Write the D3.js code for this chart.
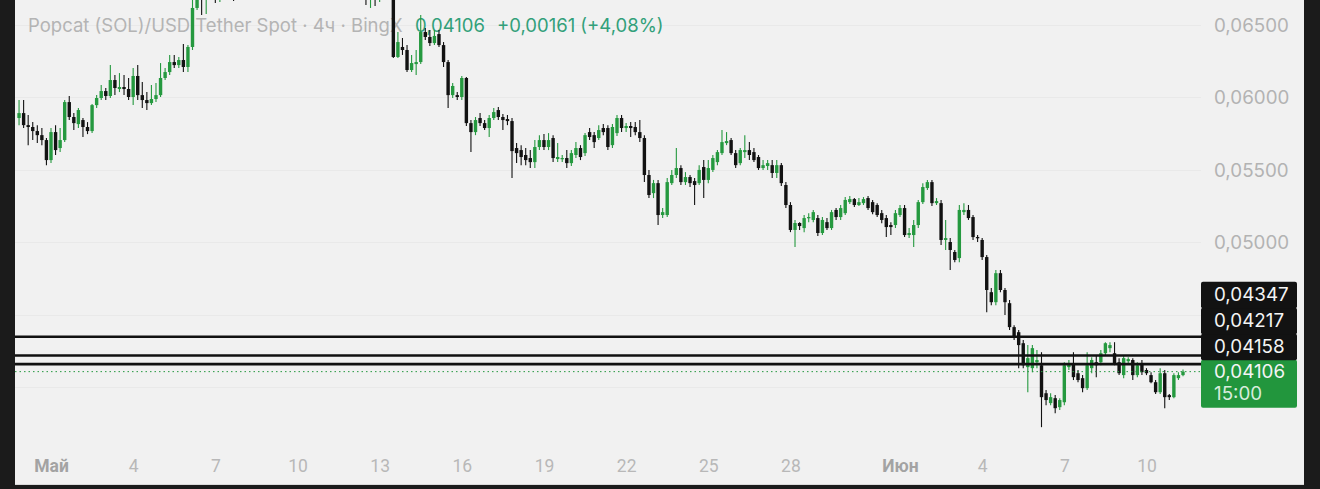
<!DOCTYPE html>
<html><head><meta charset="utf-8">
<script src="https://cdn.jsdelivr.net/npm/d3@7"></script>
<style>html,body{margin:0;padding:0;background:#1b1b1b;overflow:hidden}</style>
</head><body>
<svg id="chart" width="1320" height="489"></svg>
<script>
// ---- DATA (4h candles, Popcat (SOL)/USDT, BingX) ----
const firstCandle = "2024-04-29T20:00:00Z";
const candleHours = 4;
const openP = [
0.05855,0.05889,0.05806,0.05793,0.05765,0.05737,0.05703,0.05565,0.05758,0.05648,
0.05703,0.05965,0.05862,0.05813,0.05841,0.05793,0.05765,0.05944,0.05993,0.06041,
0.06007,0.06117,0.06055,0.06069,0.06055,0.06000,0.06145,0.06013,0.05979,0.05958,
0.05986,0.06013,0.06131,0.06172,0.06241,0.06220,0.06255,0.06207,0.06345,0.06614,
0.06772,0.06703,0.06841,0.06945,0.06807,0.06910,0.07014,0.06980,0.06876,0.06980,
0.07083,0.07152,0.07110,0.07221,0.07290,0.07250,0.07359,0.07320,0.07428,0.07390,
0.07290,0.07330,0.07221,0.07260,0.07152,0.07190,0.07083,0.07120,0.07014,0.07050,
0.06945,0.06980,0.06876,0.06910,0.06807,0.06841,0.06750,0.06725,0.06760,0.06740,
0.06790,0.06840,0.06810,0.06276,0.06345,0.06324,0.06186,0.06227,0.06241,0.06448,
0.06414,0.06372,0.06434,0.06358,0.06241,0.06013,0.06013,0.06000,0.06131,0.05820,
0.05758,0.05855,0.05820,0.05786,0.05855,0.05910,0.05862,0.05848,0.05834,0.05648,
0.05634,0.05600,0.05579,0.05551,0.05655,0.05703,0.05655,0.05717,0.05572,0.05572,
0.05579,0.05544,0.05600,0.05648,0.05613,0.05758,0.05737,0.05717,0.05786,0.05786,
0.05668,0.05751,0.05855,0.05786,0.05800,0.05793,0.05758,0.05717,0.05462,0.05337,
0.05406,0.05186,0.05186,0.05406,0.05462,0.05510,0.05413,0.05448,0.05420,0.05406,
0.05517,0.05428,0.05497,0.05551,0.05613,0.05682,0.05703,0.05613,0.05544,0.05620,
0.05634,0.05620,0.05586,0.05510,0.05524,0.05530,0.05476,0.05530,0.05393,0.05255,
0.05083,0.05131,0.05096,0.05165,0.05152,0.05165,0.05062,0.05137,0.05096,0.05221,
0.05172,0.05199,0.05275,0.05296,0.05255,0.05268,0.05303,0.05275,0.05255,0.05199,
0.05165,0.05117,0.05117,0.05186,0.05234,0.05048,0.05048,0.05117,0.05275,0.05372,
0.05413,0.05268,0.05268,0.05014,0.05000,0.04931,0.04889,0.05206,0.05221,0.05172,
0.05034,0.05014,0.04896,0.04654,0.04585,0.04785,0.04669,0.04578,0.04413,0.04378,
0.04302,0.04137,0.04130,0.04171,0.04150,0.03957,0.03889,0.03923,0.03861,0.03895,
0.04137,0.04164,0.04095,0.04061,0.03992,0.04130,0.04171,0.04171,0.04233,0.04268,
0.04233,0.04171,0.04082,0.04178,0.04186,0.04082,0.04164,0.04117,0.04082,0.04033,
0.03964,0.04095,0.03944,0.03930,0.04061,0.04082];
const closeP = [
0.05889,0.05806,0.05793,0.05765,0.05737,0.05703,0.05565,0.05758,0.05634,0.05703,
0.05965,0.05862,0.05820,0.05910,0.05793,0.05765,0.05944,0.05993,0.06041,0.06007,
0.06117,0.06062,0.06069,0.06055,0.06000,0.06145,0.06013,0.05979,0.05958,0.05986,
0.06013,0.06131,0.06172,0.06241,0.06220,0.06255,0.06207,0.06345,0.06614,0.06772,
0.06703,0.06841,0.06945,0.06807,0.06910,0.07014,0.06980,0.06876,0.06980,0.07083,
0.07152,0.07110,0.07221,0.07290,0.07250,0.07359,0.07320,0.07428,0.07390,0.07290,
0.07330,0.07221,0.07260,0.07152,0.07190,0.07083,0.07120,0.07014,0.07050,0.06945,
0.06980,0.06876,0.06910,0.06807,0.06841,0.06750,0.06725,0.06760,0.06740,0.06790,
0.06840,0.06810,0.06276,0.06379,0.06324,0.06186,0.06234,0.06241,0.06448,0.06414,
0.06372,0.06421,0.06358,0.06241,0.06013,0.06076,0.06000,0.06131,0.05820,0.05758,
0.05841,0.05820,0.05786,0.05855,0.05896,0.05862,0.05841,0.05834,0.05627,0.05613,
0.05586,0.05565,0.05551,0.05655,0.05703,0.05655,0.05703,0.05579,0.05586,0.05579,
0.05544,0.05613,0.05648,0.05586,0.05737,0.05724,0.05689,0.05772,0.05758,0.05655,
0.05793,0.05855,0.05786,0.05800,0.05786,0.05758,0.05717,0.05462,0.05324,0.05406,
0.05186,0.05206,0.05413,0.05462,0.05510,0.05413,0.05448,0.05406,0.05393,0.05497,
0.05428,0.05510,0.05579,0.05620,0.05689,0.05696,0.05613,0.05530,0.05634,0.05634,
0.05600,0.05565,0.05510,0.05530,0.05544,0.05476,0.05530,0.05406,0.05255,0.05083,
0.05131,0.05110,0.05165,0.05172,0.05206,0.05062,0.05152,0.05096,0.05206,0.05172,
0.05234,0.05290,0.05296,0.05255,0.05275,0.05296,0.05234,0.05206,0.05186,0.05152,
0.05103,0.05103,0.05199,0.05234,0.05048,0.05062,0.05117,0.05275,0.05379,0.05413,
0.05268,0.05282,0.05014,0.05027,0.04945,0.04876,0.05221,0.05221,0.05165,0.05034,
0.05027,0.04896,0.04669,0.04585,0.04785,0.04669,0.04585,0.04413,0.04344,0.04289,
0.04150,0.04199,0.04268,0.04186,0.03930,0.03910,0.03930,0.03854,0.03910,0.04150,
0.04164,0.04068,0.04048,0.03992,0.04150,0.04186,0.04150,0.04233,0.04302,0.04289,
0.04164,0.04095,0.04199,0.04192,0.04082,0.04150,0.04102,0.04095,0.04033,0.03964,
0.04095,0.03930,0.03930,0.04082,0.04082,0.04106];
const highP = [
0.05979,0.05979,0.05876,0.05827,0.05806,0.05786,0.05717,0.05786,0.05806,0.05786,
0.05979,0.06007,0.05889,0.05924,0.05855,0.05827,0.05951,0.06013,0.06082,0.06062,
0.06220,0.06151,0.06165,0.06151,0.06131,0.06200,0.06220,0.06103,0.06034,0.06082,
0.06096,0.06234,0.06200,0.06290,0.06290,0.06276,0.06365,0.06358,0.06703,0.06876,
0.06910,0.06945,0.07014,0.06980,0.06945,0.07083,0.07069,0.07014,0.07049,0.07120,
0.07192,0.07192,0.07261,0.07330,0.07330,0.07399,0.07399,0.07468,0.07468,0.07430,
0.07370,0.07370,0.07300,0.07300,0.07230,0.07230,0.07160,0.07160,0.07090,0.07090,
0.07020,0.07020,0.06950,0.06950,0.06881,0.06881,0.06810,0.06820,0.06830,0.06860,
0.06900,0.06940,0.06880,0.06448,0.06407,0.06358,0.06290,0.06324,0.06565,0.06476,
0.06462,0.06462,0.06462,0.06379,0.06255,0.06096,0.06034,0.06145,0.06138,0.05841,
0.05862,0.05889,0.05841,0.05876,0.05924,0.05931,0.05882,0.05876,0.05855,0.05682,
0.05668,0.05648,0.05634,0.05703,0.05737,0.05744,0.05751,0.05737,0.05682,0.05600,
0.05634,0.05634,0.05689,0.05668,0.05751,0.05786,0.05758,0.05806,0.05813,0.05806,
0.05813,0.05876,0.05876,0.05820,0.05827,0.05827,0.05841,0.05737,0.05497,0.05428,
0.05428,0.05234,0.05441,0.05497,0.05648,0.05530,0.05482,0.05462,0.05441,0.05530,
0.05565,0.05565,0.05600,0.05634,0.05772,0.05758,0.05717,0.05634,0.05648,0.05737,
0.05689,0.05648,0.05600,0.05565,0.05565,0.05565,0.05565,0.05544,0.05413,0.05275,
0.05152,0.05137,0.05186,0.05199,0.05221,0.05186,0.05172,0.05165,0.05221,0.05234,
0.05255,0.05310,0.05317,0.05303,0.05303,0.05310,0.05317,0.05290,0.05268,0.05221,
0.05186,0.05137,0.05221,0.05255,0.05255,0.05096,0.05152,0.05290,0.05406,0.05428,
0.05428,0.05303,0.05290,0.05152,0.05027,0.04945,0.05255,0.05268,0.05255,0.05186,
0.05048,0.05027,0.04910,0.04682,0.04807,0.04807,0.04682,0.04600,0.04426,0.04393,
0.04324,0.04289,0.04289,0.04255,0.04240,0.03979,0.03957,0.03944,0.03923,0.04171,
0.04186,0.04240,0.04117,0.04082,0.04240,0.04206,0.04220,0.04255,0.04309,0.04309,
0.04309,0.04199,0.04220,0.04206,0.04199,0.04171,0.04186,0.04130,0.04102,0.04048,
0.04130,0.04117,0.03951,0.04095,0.04102,0.04120];
const lowP = [
0.05806,0.05786,0.05668,0.05703,0.05682,0.05668,0.05530,0.05544,0.05600,0.05620,
0.05689,0.05841,0.05772,0.05786,0.05724,0.05744,0.05751,0.05924,0.05979,0.05979,
0.05993,0.06013,0.06034,0.06013,0.05979,0.05944,0.05979,0.05924,0.05910,0.05944,
0.05965,0.06000,0.06117,0.06151,0.06200,0.06200,0.06172,0.06172,0.06324,0.06600,
0.06565,0.06572,0.06807,0.06648,0.06655,0.06876,0.06807,0.06662,0.06807,0.06940,
0.07043,0.07070,0.07070,0.07181,0.07210,0.07210,0.07280,0.07280,0.07350,0.07250,
0.07250,0.07181,0.07181,0.07112,0.07112,0.07043,0.07043,0.06974,0.06974,0.06905,
0.06905,0.06836,0.06836,0.06767,0.06767,0.06710,0.06634,0.06614,0.06627,0.06655,
0.06720,0.06720,0.06269,0.06269,0.06290,0.06172,0.06172,0.06151,0.06227,0.06393,
0.06352,0.06358,0.06345,0.06207,0.05924,0.05993,0.05979,0.05979,0.05800,0.05620,
0.05737,0.05800,0.05772,0.05724,0.05841,0.05841,0.05772,0.05806,0.05441,0.05544,
0.05530,0.05530,0.05510,0.05510,0.05634,0.05634,0.05634,0.05551,0.05551,0.05551,
0.05510,0.05524,0.05579,0.05565,0.05593,0.05703,0.05648,0.05703,0.05737,0.05634,
0.05648,0.05731,0.05758,0.05758,0.05724,0.05737,0.05689,0.05413,0.05303,0.05303,
0.05117,0.05165,0.05172,0.05393,0.05441,0.05393,0.05393,0.05379,0.05255,0.05393,
0.05303,0.05406,0.05482,0.05530,0.05600,0.05668,0.05600,0.05510,0.05530,0.05579,
0.05565,0.05551,0.05497,0.05497,0.05497,0.05441,0.05441,0.05386,0.05234,0.05068,
0.04965,0.05083,0.05068,0.05137,0.05137,0.05041,0.05048,0.05083,0.05083,0.05152,
0.05152,0.05186,0.05262,0.05241,0.05248,0.05255,0.05221,0.05192,0.05172,0.05130,
0.05034,0.05048,0.05096,0.05172,0.05034,0.05027,0.04965,0.05096,0.05262,0.05359,
0.05248,0.05255,0.04979,0.04945,0.04807,0.04861,0.04861,0.05186,0.05152,0.05014,
0.05000,0.04876,0.04516,0.04564,0.04564,0.04654,0.04496,0.04393,0.04324,0.04130,
0.04130,0.03964,0.04102,0.04130,0.03723,0.03875,0.03875,0.03819,0.03841,0.03875,
0.04117,0.04048,0.04033,0.03964,0.03979,0.04095,0.04068,0.04150,0.04213,0.04240,
0.04150,0.04082,0.04061,0.04164,0.04048,0.04068,0.04082,0.04082,0.04026,0.03951,
0.03951,0.03854,0.03910,0.03923,0.04048,0.04075];

const priceTicks = [0.065, 0.060, 0.055, 0.050];
const gridPrices = [0.065, 0.060, 0.055, 0.050, 0.045, 0.040];
const levelPrices = [0.04347, 0.04217, 0.04158];
const lastPrice = 0.04106;
const countdown = "15:00";
const timeTickDates = ["2024-05-01","2024-05-04","2024-05-07","2024-05-10","2024-05-13","2024-05-16",
  "2024-05-19","2024-05-22","2024-05-25","2024-05-28","2024-06-01","2024-06-04","2024-06-07","2024-06-10"];
const timeTickLabels = ["Май","4","7","10","13","16","19","22","25","28","Июн","4","7","10"];
const monthLabels = ["Май","Июн"];
const titleText = "Popcat (SOL)/USD Tether Spot · 4ч · BingX";
const priceText = "0,04106";
const changeText = "+0,00161 (+4,08%)";

// ---- LAYOUT ----
const W = 1320, H = 489;
const frame = {left: 15, right: 1304, bottom: 485};
const plotRight = 1201;
const UP = "#25993f", DOWN = "#121212";
const fmt = d => d.toFixed(5).replace(".", ",");
const UI_FONT = "Inter, 'Noto Sans', sans-serif";

const svg = d3.select("#chart");
const x = d3.scaleUtc()
  .domain([new Date("2024-05-01T00:00:00Z"), new Date("2024-06-01T00:00:00Z")])
  .range([51, 900]);
const y = d3.scaleLinear().domain([0.050, 0.065]).range([242, 24.5]);

const t0 = new Date(firstCandle).getTime();
const candles = openP.map((o, i) => ({
  t: new Date(t0 + i * candleHours * 3600e3),
  o, c: closeP[i],
  h: Math.max(highP[i], o, closeP[i]),
  l: Math.min(lowP[i], o, closeP[i])
}));

svg.append("rect").attr("width", W).attr("height", H).attr("fill", "#1b1b1b");
svg.append("rect").attr("x", frame.left).attr("y", 0)
  .attr("width", frame.right - frame.left).attr("height", frame.bottom).attr("fill", "#f1f1f1");
svg.append("line").attr("x1", frame.left).attr("x2", frame.right)
  .attr("y1", frame.bottom - 0.5).attr("y2", frame.bottom - 0.5).attr("stroke", "#d9d9d9");

// grid
svg.append("g").selectAll("line").data(gridPrices).join("line")
  .attr("x1", frame.left).attr("x2", plotRight)
  .attr("y1", d => Math.round(y(d)) + 0.5).attr("y2", d => Math.round(y(d)) + 0.5)
  .attr("stroke", "#e9e9e9").attr("stroke-width", 1);

// header legend
const head = svg.append("g").attr("font-family", UI_FONT).attr("font-size", 18.5);
head.append("text").attr("x", 28).attr("y", 31.5).attr("fill", "#b4b4b4").text(titleText);
head.append("text").attr("x", 415).attr("y", 31.5).attr("fill", "#32a07a").text(priceText);
head.append("text").attr("x", 497).attr("y", 31.5).attr("fill", "#32a07a").text(changeText);

// candles
svg.append("clipPath").attr("id", "plotClip").append("rect")
  .attr("x", frame.left).attr("y", 0).attr("width", plotRight - frame.left).attr("height", frame.bottom);
const cg = svg.append("g").attr("clip-path", "url(#plotClip)");
const col = d => d.c >= d.o ? UP : DOWN;
cg.selectAll("line.wick").data(candles).join("line").attr("class", "wick")
  .attr("x1", d => x(d.t)).attr("x2", d => x(d.t))
  .attr("y1", d => y(d.h)).attr("y2", d => y(d.l))
  .attr("stroke", col).attr("stroke-width", 1.1);
cg.selectAll("rect.body").data(candles).join("rect").attr("class", "body")
  .attr("x", d => x(d.t) - 1.7).attr("width", 3.4)
  .attr("y", d => y(Math.max(d.o, d.c)))
  .attr("height", d => Math.max(1.2, Math.abs(y(d.o) - y(d.c))))
  .attr("fill", col);

// last price dotted line
svg.append("line").attr("x1", frame.left).attr("x2", plotRight)
  .attr("y1", y(lastPrice)).attr("y2", y(lastPrice))
  .attr("stroke", UP).attr("stroke-width", 1).attr("stroke-dasharray", "1.5,3");

// horizontal level lines
svg.append("g").selectAll("line").data(levelPrices).join("line")
  .attr("x1", frame.left).attr("x2", plotRight)
  .attr("y1", d => y(d)).attr("y2", d => y(d))
  .attr("stroke", "#111").attr("stroke-width", 2.6);

// right price axis
const ya = svg.append("g").attr("transform", "translate(1214,0)")
  .call(d3.axisRight(y).tickValues(priceTicks).tickFormat(fmt).tickSize(0).tickPadding(0));
ya.select(".domain").remove();
ya.selectAll("text").attr("font-family", UI_FONT).attr("font-size", 18.8)
  .attr("fill", "#b3b3b3").attr("dy", "0.35em");

// price labels: stack upward from the last-price label to avoid overlap
const boxX = 1201, boxW = 96, rowH = 26;
const lastTop = y(lastPrice) - 12;
const lab = svg.append("g").attr("font-family", UI_FONT).attr("font-size", 18.8);
lab.append("rect").attr("x", boxX).attr("y", lastTop).attr("width", boxW).attr("height", 2 * rowH - 4)
  .attr("rx", 2).attr("fill", "#22963d");
lab.append("text").attr("x", 1214).attr("y", lastTop + 12).attr("dy", "0.35em").attr("fill", "#f4f4f4").text(fmt(lastPrice));
lab.append("text").attr("x", 1214).attr("y", lastTop + 34).attr("dy", "0.35em").attr("fill", "#d8ecdc").text(countdown);
let limit = lastTop;
const sorted = levelPrices.slice().sort((a, b) => a - b);
sorted.forEach(p => {
  let top = y(p) - rowH / 2;
  if (top + rowH > limit) top = limit - rowH;
  limit = top;
  lab.append("rect").attr("x", boxX).attr("y", top).attr("width", boxW).attr("height", rowH + 0.5)
    .attr("rx", 2).attr("fill", "#121212");
  lab.append("text").attr("x", 1214).attr("y", top + rowH / 2).attr("dy", "0.35em")
    .attr("fill", "#f4f4f4").text(fmt(p));
});

// bottom time axis
const xa = svg.append("g").attr("transform", "translate(0,466)")
  .call(d3.axisBottom(x).tickValues(timeTickDates.map(d => new Date(d + "T00:00:00Z")))
    .tickFormat((d, i) => timeTickLabels[i]).tickSize(0).tickPadding(0));
xa.select(".domain").remove();
xa.selectAll("text").attr("y", 0).attr("dy", "0.35em")
  .attr("font-family", "Roboto, sans-serif").attr("font-size", 17.5)
  .attr("fill", (d, i) => monthLabels.includes(timeTickLabels[i]) ? "#a3a3a3" : "#b8b8b8")
  .attr("font-weight", (d, i) => monthLabels.includes(timeTickLabels[i]) ? 700 : 400);
</script>
</body></html>
